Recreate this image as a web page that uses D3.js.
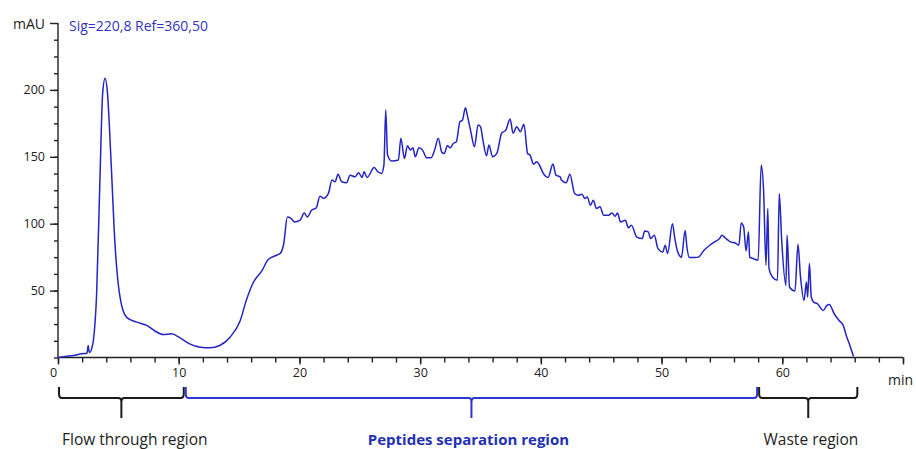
<!DOCTYPE html>
<html>
<head>
<meta charset="utf-8">
<script src="https://cdn.jsdelivr.net/npm/d3@7"></script>
<style>
  body { margin: 0; background: #fff; }
  svg { display: block; font-family: "Open Sans", sans-serif; }
</style>
</head>
<body>
<script>
// Chromatogram: retention time (min) and absorbance (mAU)
var times = [0.0, 0.6, 1.27, 1.96, 2.4, 2.5, 2.58, 2.65, 2.8, 2.93, 3.2, 3.48, 3.7, 3.9, 4.1, 4.39, 4.72, 5.14, 5.69, 6.52,
  7.35, 8.0, 8.7, 9.4, 10.1, 10.9, 11.8, 12.6, 13.4, 14.25, 15.1, 15.6, 16.2, 16.9, 17.4, 18.1, 18.4, 18.7, 19.0, 19.3,
  19.6, 20.05, 20.4, 20.65, 21.0, 21.4, 21.7, 22.0, 22.4, 22.7, 22.95, 23.2, 23.5, 23.9, 24.2, 24.6, 24.9, 25.2, 25.35, 25.6,
  26.2, 26.5, 26.8, 27.0, 27.15, 27.3, 27.65, 28.2, 28.4, 28.7, 28.95, 29.2, 29.4, 29.6, 29.9, 30.2, 30.55, 30.9, 31.2, 31.5,
  31.8, 32.0, 32.25, 32.5, 32.75, 33.0, 33.3, 33.5, 33.75, 33.9, 34.2, 34.5, 34.8, 35.0, 35.2, 35.5, 35.7, 36.0, 36.35, 36.75,
  37.1, 37.45, 37.7, 38.0, 38.3, 38.6, 38.9, 39.1, 39.4, 39.65, 39.9, 40.2, 40.6, 41.0, 41.25, 41.6, 41.7, 42.1, 42.4, 42.8,
  43.1, 43.4, 43.65, 43.85, 44.1, 44.35, 44.6, 44.9, 45.2, 45.6, 45.9, 46.15, 46.35, 46.6, 47.0, 47.25, 47.5, 47.95, 48.4, 48.6,
  48.9, 49.1, 49.4, 49.7, 50.1, 50.3, 50.5, 50.9, 51.1, 51.3, 51.65, 51.95, 52.1, 52.3, 52.8, 53.05, 53.5, 54.0, 54.4, 54.8,
  55.0, 55.25, 55.7, 56.1, 56.4, 56.6, 56.8, 57.0, 57.2, 57.3, 57.6, 58.0, 58.25, 58.45, 58.65, 58.8, 58.9, 59.2, 59.6, 59.75,
  59.95, 60.3, 60.4, 60.6, 61.05, 61.3, 61.5, 61.8, 62.0, 62.1, 62.25, 62.4, 62.6, 62.9, 63.4, 63.7, 63.9, 64.3, 64.7, 65.05,
  65.3, 65.6, 65.9];
var absorbance = [0, 0.8, 1.5, 2.8, 3.2, 9, 4, 4, 7, 12.7, 47.7, 135, 197.5, 208.7, 197.5, 147.6, 85, 45, 30, 26.4,
  24, 20, 17.2, 17.7, 14.7, 10.2, 7.7, 7.2, 9, 15.2, 27.7, 42.7, 56.4, 65, 73, 76.4, 77.7, 85, 105, 104,
  101.3, 102.6, 108, 105, 110, 112, 120.6, 119, 122.6, 132.6, 131.3, 137, 131.3, 130.6, 136.3, 135, 138, 134.6, 138.8, 134.6,
  142, 138.8, 137.6, 144, 185, 151.3, 146.8, 147.6, 163.8, 148.8, 158.3, 155, 156.8, 150, 156.8, 155, 149.3, 149.3, 155, 163.8,
  153.3, 152.5, 158.3, 156.8, 160, 161.3, 176.3, 177.3, 186.7, 181.3, 168.8, 157.5, 173.8, 172.5, 162.5, 150.8, 158.8, 150, 152.5, 167.6,
  170, 178.3, 167.6, 172.5, 168.8, 174.3, 152.5, 151.3, 144.5, 146.3, 143.5, 137.6, 134.6, 144.6, 136.3, 135, 132.6, 130.6, 137, 122.6,
  121.3, 122, 118.8, 120, 113.8, 117.6, 111.4, 112.6, 106.4, 106.4, 108, 105.6, 108, 101.3, 102.6, 97, 98.9, 90, 88.9, 94.6,
  93.9, 88.9, 91.4, 81.4, 78.9, 83.9, 77.7, 100, 88.9, 80, 75, 95, 82.6, 74.7, 74.7, 75, 80, 83.9, 86.4, 88.9,
  91.4, 89.6, 86.4, 85.6, 83.9, 100.6, 97.6, 79.6, 93.9, 75, 73.9, 72.7, 143.8, 125, 68.9, 111.4, 66.4, 60, 57.7, 122.6,
  87.6, 53.9, 91.4, 52.7, 49.7, 84.6, 61.4, 42.7, 56.4, 45.2, 70.2, 45.2, 41.4, 40.2, 35.2, 39, 39.7, 32.7, 27.7, 24,
  16.5, 9, 0.7];

// Regions under the time axis
var regionNames = ["Flow through region", "Peptides separation region", "Waste region"];
var regionStart = [0, 10.5, 58];
var regionEnd = [10.5, 58, 66.3];

var xTicks = [0, 10, 20, 30, 40, 50, 60, 70];
var yTicks = [50, 100, 150, 200];
var signalLabel = "Sig=220,8 Ref=360,50";

var width = 916, height = 449;
var traceColor = "#2424c4";
var blueText = "#2330b4";

var svg = d3.select("body").append("svg")
  .attr("width", width)
  .attr("height", height);

var x = d3.scaleLinear().domain([0, 70]).range([58, 903]);
var y = d3.scaleLinear().domain([0, 250]).range([357.5, 23]);

var data = times.map(function (t, i) { return { t: t, v: absorbance[i] }; });

// y axis: minor ticks every 12.5, labelled ticks every 50
svg.append("g")
  .attr("transform", "translate(" + x(0) + ",0)")
  .call(d3.axisLeft(y).tickValues(d3.range(0, 250, 12.5)).tickSize(4).tickFormat(""))
  .call(function (g) { g.select(".domain").remove(); });

var yAxis = svg.append("g")
  .attr("transform", "translate(" + x(0) + ",0)")
  .call(d3.axisLeft(y).tickValues(yTicks.concat([250])).tickSize(8).tickPadding(5)
    .tickFormat(function (d) { return d === 250 ? "mAU" : d; }));
yAxis.select(".domain").attr("d", "M0," + y(250) + "V" + y(0));
yAxis.selectAll("text").attr("font-size", 12.5).attr("fill", "#222").attr("font-family", "Open Sans");
yAxis.selectAll(".tick").filter(function (d) { return d === 250; }).select("text")
  .attr("font-size", 14).attr("dy", "0.4em");

// x axis: minor ticks every 2 min
svg.append("g")
  .attr("transform", "translate(0," + y(0) + ")")
  .call(d3.axisBottom(x).tickValues(d3.range(0, 71, 2)).tickSize(5).tickFormat(""))
  .call(function (g) { g.select(".domain").remove(); });

var xAxis = svg.append("g")
  .attr("transform", "translate(0," + y(0) + ")")
  .call(d3.axisBottom(x).tickValues(xTicks).tickSize(7).tickPadding(4)
    .tickFormat(function (d) { return d === 70 ? "" : d; }));
xAxis.select(".domain").attr("d", "M" + x(0) + ",0H" + x(70));
xAxis.selectAll("text").attr("font-size", 12.5).attr("fill", "#222").attr("font-family", "Open Sans");
xAxis.selectAll(".tick").filter(function (d) { return d === 0; }).select("text").attr("dx", "-0.4em");

svg.selectAll(".domain, .tick line").attr("stroke", "#222").attr("stroke-width", 1.4);

svg.append("text")
  .attr("x", x(70) - 15)
  .attr("y", 385)
  .attr("font-size", 14)
  .attr("fill", "#222")
  .text("min");

svg.append("text")
  .attr("x", 69)
  .attr("y", 31)
  .attr("font-size", 14)
  .attr("fill", "#3434c4")
  .text(signalLabel);

// the trace
var line = d3.line()
  .x(function (d) { return x(d.t); })
  .y(function (d) { return y(d.v); })
  .curve(d3.curveMonotoneX);

svg.append("path")
  .datum(data)
  .attr("d", line)
  .attr("fill", "none")
  .attr("stroke", traceColor)
  .attr("stroke-width", 1.5)
  .attr("stroke-linejoin", "round");

// region brackets
var yBar = 398, yTop = 387, yStem = 418;
regionNames.forEach(function (name, i) {
  var x0 = x(regionStart[i]), x1 = x(regionEnd[i]);
  var xm = (x0 + x1) / 2;
  var color = i === 1 ? "#2a36cc" : "#1a1a1a";
  var p = d3.path();
  p.moveTo(x0 + 1, yTop);
  p.lineTo(x0 + 1, yBar - 4);
  p.quadraticCurveTo(x0 + 1, yBar, x0 + 4, yBar);
  p.lineTo(xm - 3, yBar);
  p.quadraticCurveTo(xm, yBar, xm, yBar + 4);
  p.lineTo(xm, yStem);
  p.moveTo(xm, yBar + 4);
  p.quadraticCurveTo(xm, yBar, xm + 3, yBar);
  p.lineTo(x1 - 4, yBar);
  p.quadraticCurveTo(x1 - 1, yBar, x1 - 1, yBar - 4);
  p.lineTo(x1 - 1, yTop);
  svg.append("path")
    .attr("d", p.toString())
    .attr("fill", "none")
    .attr("stroke", color)
    .attr("stroke-width", 2);

  var anchor = i === 0 ? "start" : (i === 1 ? "middle" : "end");
  var tx = i === 0 ? x0 + 4 : (i === 1 ? xm - 3 : x1);
  svg.append("text")
    .attr("x", tx)
    .attr("y", 445)
    .attr("text-anchor", anchor)
    .attr("font-size", i === 1 ? 15 : 15.5)
    .attr("font-weight", i === 1 ? "bold" : "normal")
    .attr("fill", i === 1 ? blueText : "#222")
    .text(name);
});
</script>
</body>
</html>
